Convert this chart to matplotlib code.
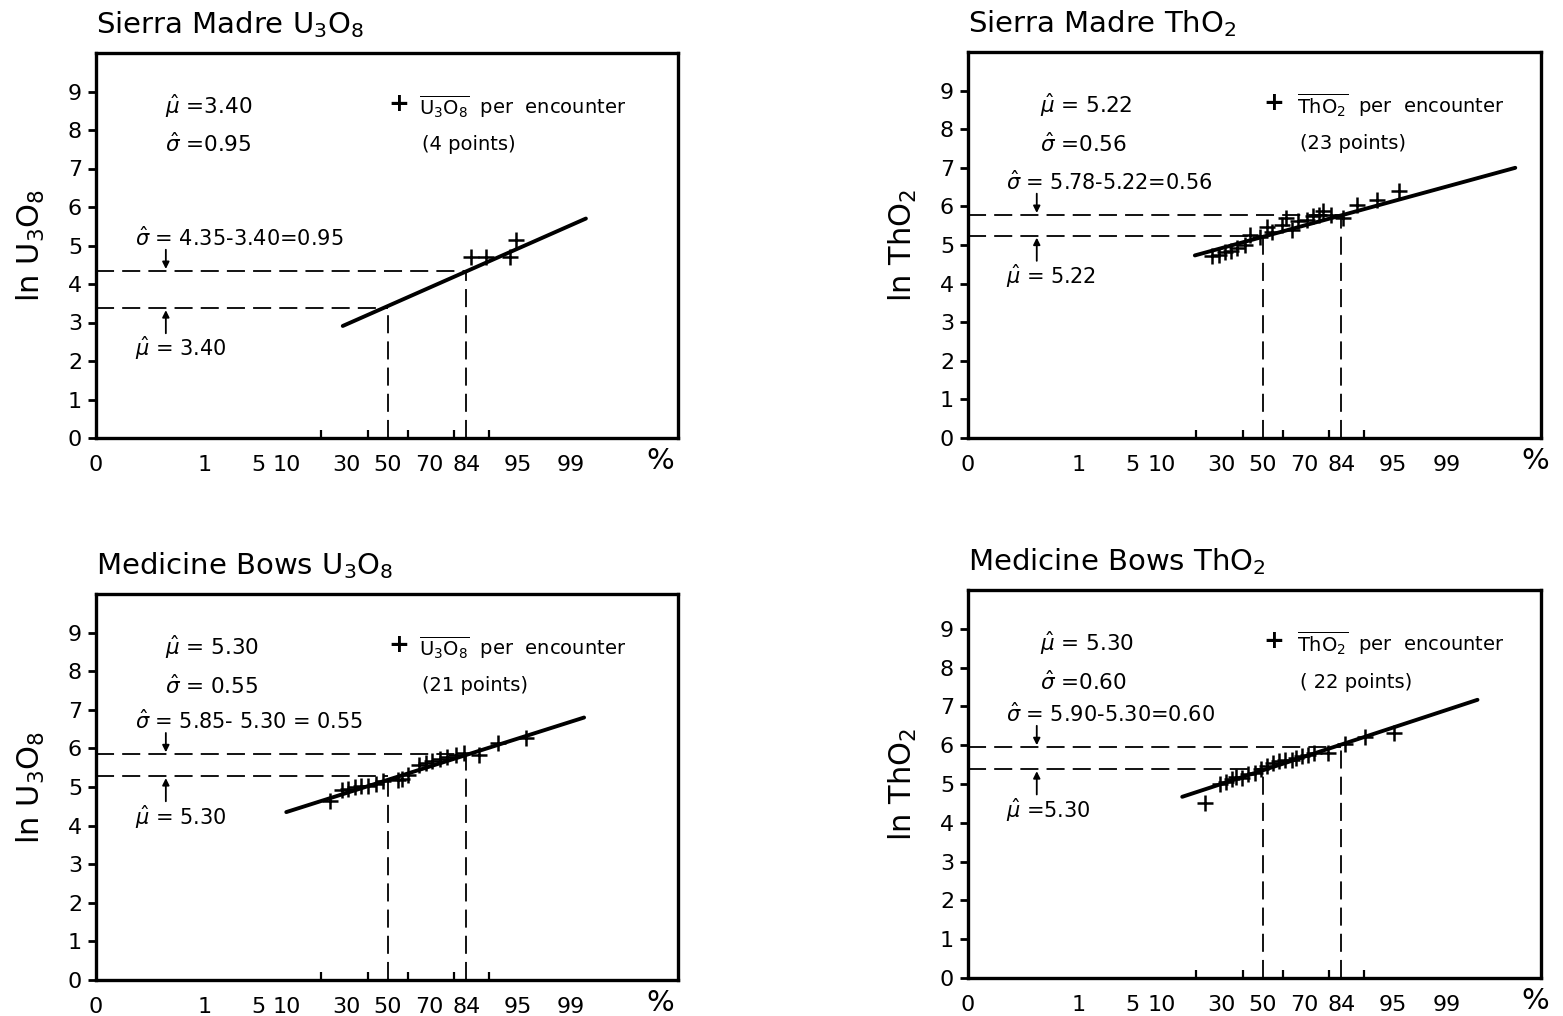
import matplotlib
matplotlib.use("Agg")
import matplotlib.pyplot as plt
import matplotlib.transforms as mtransforms
from statistics import NormalDist

plt.rcParams['font.family'] = ['DejaVu Sans']
plt.rcParams['mathtext.fontset'] = 'dejavusans'

# ---------------- data ----------------
tick_marks_pct = [1, 5, 10, 20, 30, 40, 50, 60, 70, 80, 84, 90, 95, 99]
tick_label_pct = [1, 5, 10, 30, 50, 70, 84, 95, 99]
tick_label_txt = ["1", "5", "10", "30", "50", "70", "84", "95", "99"]
y_ticks = [0, 1, 2, 3, 4, 5, 6, 7, 8, 9]

titles = ["Sierra Madre U$_3$O$_8$", "Sierra Madre ThO$_2$",
          "Medicine Bows U$_3$O$_8$", "Medicine Bows ThO$_2$"]
ylabels = ["ln U$_3$O$_8$", "ln ThO$_2$", "ln U$_3$O$_8$", "ln ThO$_2$"]
species = [r"$\overline{\mathrm{U_3O_8}}$", r"$\overline{\mathrm{ThO_2}}$",
           r"$\overline{\mathrm{U_3O_8}}$", r"$\overline{\mathrm{ThO_2}}$"]
npoints_txt = ["(4 points)", "(23 points)", "(21 points)", "( 22 points)"]
mu_txt = ["=3.40", "= 5.22", "= 5.30", "= 5.30"]
sigma_txt = ["=0.95", "=0.56", "= 0.55", "=0.60"]
mu_ann_txt = ["= 3.40", "= 5.22", "= 5.30", "=5.30"]
sigma_calc_txt = ["= 4.35-3.40=0.95", "= 5.78-5.22=0.56", "= 5.85- 5.30 = 0.55",
                  "= 5.90-5.30=0.60"]

# dashed reference levels as drawn (mu and mu+sigma)
mu_level = [3.37, 5.24, 5.28, 5.38]
sig_level = [4.34, 5.78, 5.85, 5.95]

# fitted lines (percent, value at end points)
sm_u_fit_pct = [28.4, 99.4]
sm_u_fit_val = [2.91, 5.70]
sm_th_fit_pct = [19.5, 99.93]
sm_th_fit_val = [4.73, 7.00]
mb_u_fit_pct = [9.9, 99.36]
mb_u_fit_val = [4.35, 6.80]
mb_th_fit_pct = [15.4, 99.67]
mb_th_fit_val = [4.67, 7.17]

# observations (cumulative percent, ln value)
sm_u_pct = [85.5, 89.3, 94.0, 94.8]
sm_u_val = [4.70, 4.70, 4.70, 5.15]

sm_th_pct = [26.1, 28.8, 31.5, 34.3, 37.1, 41.2, 43.8, 48.4, 52.1, 54.5, 59.6, 61.6,
             64.6, 67.4, 71.0, 73.6, 76.1, 77.7, 80.7, 84.6, 88.3, 92.6, 95.8]
sm_th_val = [4.71, 4.75, 4.82, 4.85, 4.92, 5.01, 5.27, 5.22, 5.46, 5.34, 5.51, 5.70,
             5.40, 5.61, 5.66, 5.74, 5.79, 5.87, 5.79, 5.70, 6.03, 6.17, 6.39]

mb_u_pct = [23.2, 28.0, 30.8, 33.8, 36.8, 39.9, 44.2, 47.4, 55.0, 57.1, 60.3,
            65.4, 68.4, 71.2, 74.8, 77.3, 80.5, 83.3, 87.6, 91.9, 96.0]
mb_u_val = [4.64, 4.93, 4.96, 4.99, 5.02, 5.03, 5.08, 5.15, 5.17, 5.22, 5.32,
            5.56, 5.62, 5.67, 5.73, 5.77, 5.84, 5.87, 5.84, 6.15, 6.28]

mb_th_pct = [23.1, 29.3, 32.1, 34.9, 36.8, 39.8, 42.8, 45.9, 49.0, 52.1, 55.2,
             58.2, 61.2, 64.2, 66.1, 68.8, 71.6, 74.2, 79.7, 85.0, 90.2, 95.1]
mb_th_val = [4.50, 4.99, 5.05, 5.12, 5.19, 5.16, 5.25, 5.29, 5.38, 5.46, 5.53,
             5.59, 5.63, 5.62, 5.68, 5.72, 5.75, 5.81, 5.81, 6.02, 6.22, 6.32]

obs_pct = [sm_u_pct, sm_th_pct, mb_u_pct, mb_th_pct]
obs_val = [sm_u_val, sm_th_val, mb_u_val, mb_th_val]
fit_pct = [sm_u_fit_pct, sm_th_fit_pct, mb_u_fit_pct, mb_th_fit_pct]
fit_val = [sm_u_fit_val, sm_th_fit_val, mb_u_fit_val, mb_th_fit_val]

# ---------------- helpers ----------------
ND = NormalDist()


def probit(p):
    return ND.inv_cdf(p / 100.0)


W, H = 1563, 1016
fig = plt.figure(figsize=(W / 100, H / 100), dpi=100)

# axes frames in pixels: (left, top, right, bottom)
frames = [(96, 53, 678, 438), (968, 52, 1541, 438),
          (96, 594, 678, 980), (968, 590, 1541, 978)]
xlims = [(-3.70, 3.68), (-3.73, 3.52), (-3.70, 3.68), (-3.73, 3.52)]

dash = (10, 4.5)

for i in range(4):
    l, t, r, b = frames[i]
    ax = fig.add_axes([l / W, 1 - b / H, (r - l) / W, (b - t) / H])
    ax.set_xlim(*xlims[i])
    ax.set_ylim(0, 10.0)
    for s in ax.spines.values():
        s.set_linewidth(2.4)

    # y axis
    ax.set_yticks(y_ticks)
    ax.set_yticklabels([str(v) for v in y_ticks])
    ax.tick_params(axis='y', direction='out', length=6, width=2.0,
                   labelsize=16, pad=4)
    ax.set_ylabel(ylabels[i], fontsize=22)
    ax.yaxis.set_label_coords(-0.085, 0.5)

    # x axis: labels without marks, marks inside as minor ticks
    x0 = xlims[i][0]
    ax.set_xticks([x0] + [probit(p) for p in tick_label_pct])
    ax.set_xticklabels(["0"] + tick_label_txt)
    ax.set_xticks([probit(p) for p in tick_marks_pct], minor=True)
    ax.tick_params(axis='x', which='major', length=0, labelsize=16, pad=12)
    ax.tick_params(axis='x', which='minor', direction='in', length=6, width=1.6)
    trans_x = mtransforms.blended_transform_factory(ax.transData, ax.transAxes)
    ax.text(3.45, -0.06, "%", transform=trans_x, fontsize=21,
            ha='center', va='center')

    # title
    ax.text(0.0, 1 + 28 / (b - t), titles[i], transform=ax.transAxes,
            fontsize=21, ha='left', va='center')

    # dashed guides
    z50, z84 = probit(50), probit(84)
    ax.plot([x0, z50], [mu_level[i], mu_level[i]], color='black', lw=1.3,
            dashes=dash)
    ax.plot([x0, z84], [sig_level[i], sig_level[i]], color='black', lw=1.3,
            dashes=dash)
    ax.plot([z50, z50], [0, mu_level[i]], color='black', lw=1.3, dashes=dash)
    ax.plot([z84, z84], [0, sig_level[i]], color='black', lw=1.3, dashes=dash)

    # fit line
    ax.plot([probit(p) for p in fit_pct[i]], fit_val[i], color='black',
            lw=2.8, solid_capstyle='round')

    # observations
    ax.plot([probit(p) for p in obs_pct[i]], obs_val[i], linestyle='none',
            marker='+', markersize=11, mew=1.8, color='black')

    # text blocks
    tr = mtransforms.blended_transform_factory(ax.transAxes, ax.transData)
    sx = 0.119 if i % 2 == 0 else 0.126
    px = 0.52 if i % 2 == 0 else 0.534
    lx = 0.555 if i % 2 == 0 else 0.574
    ax.text(sx, 8.62, r"$\hat{\mu}$ " + mu_txt[i], transform=tr,
            fontsize=15.5, va='center')
    ax.text(sx, 7.62, r"$\hat{\sigma}$ " + sigma_txt[i], transform=tr,
            fontsize=15.5, va='center')
    ax.text(px, 8.68, "+", transform=tr, fontsize=18, va='center', ha='center',
            fontweight='bold')
    ax.text(lx, 8.62, species[i] + "  per  encounter", transform=tr,
            fontsize=14, va='center')
    ax.text(lx + 0.005, 7.62, npoints_txt[i], transform=tr,
            fontsize=14, va='center')

    ann_sig_y = sig_level[i] + 0.85
    ann_mu_y = mu_level[i] - 1.05
    ax.text(0.067, ann_sig_y, r"$\hat{\sigma}$ " + sigma_calc_txt[i],
            transform=tr, fontsize=15, va='center')
    ax.text(0.067, ann_mu_y, r"$\hat{\mu}$ " + mu_ann_txt[i],
            transform=tr, fontsize=15, va='center')
    ax.annotate("", xy=(0.12, sig_level[i] + 0.05),
                xytext=(0.12, sig_level[i] + 0.55),
                xycoords=tr, textcoords=tr,
                arrowprops=dict(arrowstyle='-|>', lw=1.3, color='black',
                                mutation_scale=10, shrinkA=0, shrinkB=0))
    ax.annotate("", xy=(0.12, mu_level[i] - 0.05),
                xytext=(0.12, mu_level[i] - 0.65),
                xycoords=tr, textcoords=tr,
                arrowprops=dict(arrowstyle='-|>', lw=1.3, color='black',
                                mutation_scale=10, shrinkA=0, shrinkB=0))

fig.savefig("out.png", dpi=100, facecolor='white')
